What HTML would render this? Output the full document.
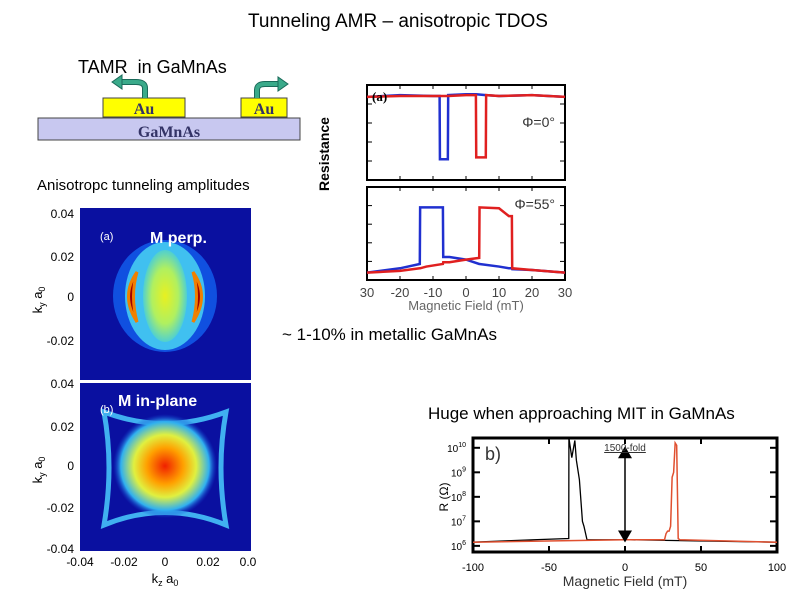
<!DOCTYPE html>
<html><head><meta charset="utf-8"><style>
body{margin:0;width:794px;height:595px;background:#fff;position:relative;overflow:hidden;font-family:"Liberation Sans",sans-serif}
.t{position:absolute;white-space:nowrap}
</style></head><body>
<div class="t" style="left:248px;top:11px;font-size:19px">Tunneling AMR – anisotropic TDOS</div>
<div class="t" style="left:78px;top:57px;font-size:18px">TAMR&nbsp; in GaMnAs</div>
<svg width="794" height="595" style="position:absolute;left:0;top:0">
<rect x="38" y="118" width="262" height="22" fill="#c8c8f0" stroke="#444"/>
<rect x="103" y="98" width="82" height="19" fill="#ffff00" stroke="#444"/>
<rect x="241" y="98" width="46" height="19" fill="#ffff00" stroke="#444"/>
<text x="144" y="114" font-family="Liberation Serif" font-weight="bold" font-size="16" text-anchor="middle" fill="#333366">Au</text>
<text x="264" y="114" font-family="Liberation Serif" font-weight="bold" font-size="16" text-anchor="middle" fill="#333366">Au</text>
<text x="169" y="137" font-family="Liberation Serif" font-weight="bold" font-size="16" text-anchor="middle" fill="#333366">GaMnAs</text>
<path d="M145 98 L145 88 Q145 82 136 82 L120 82" fill="none" stroke="#1a6a5a" stroke-width="6"/>
<path d="M145 98 L145 88 Q145 82 136 82 L120 82" fill="none" stroke="#3aaa8a" stroke-width="4"/>
<polygon points="112,82 122,75 122,89" fill="#3aaa8a" stroke="#1a6a5a"/>
<path d="M257 98 L257 90 Q257 84 265 84 L280 84" fill="none" stroke="#1a6a5a" stroke-width="6"/>
<path d="M257 98 L257 90 Q257 84 265 84 L280 84" fill="none" stroke="#3aaa8a" stroke-width="4"/>
<polygon points="288,84 278,77 278,91" fill="#3aaa8a" stroke="#1a6a5a"/>
</svg>
<div class="t" style="left:37px;top:177px;font-size:15px">Anisotropc tunneling amplitudes</div>
<div class="t" style="left:287px;top:146px;font-size:14px;font-weight:bold;transform:rotate(-90deg)">Resistance</div>
<div class="t" style="left:282px;top:325px;font-size:17px">~ 1-10% in metallic GaMnAs</div>
<div class="t" style="left:428px;top:404px;font-size:17px">Huge when approaching MIT in GaMnAs</div>

<svg id="heat" width="794" height="595" style="position:absolute;left:0;top:0">
<defs>
<radialGradient id="ga" cx="0.5" cy="0.5" r="0.5"><stop offset="0" stop-color="#e8f020"/><stop offset="0.6" stop-color="#b0f060"/><stop offset="1" stop-color="#50d0d0"/></radialGradient>
<radialGradient id="gb" cx="0.5" cy="0.5" r="0.5"><stop offset="0" stop-color="#f02000"/><stop offset="0.35" stop-color="#ffa000"/><stop offset="0.6" stop-color="#e0f040"/><stop offset="0.85" stop-color="#30b0f0"/><stop offset="1" stop-color="#1040d0" stop-opacity="0"/></radialGradient>
</defs>
<rect x="80" y="208" width="171" height="172" fill="#0a10a0"/>
<ellipse cx="165" cy="296" rx="52" ry="56" fill="#1050e0"/>
<ellipse cx="165" cy="296" rx="40" ry="54" fill="#40c0f0"/>
<ellipse cx="165" cy="296" rx="22" ry="46" fill="url(#ga)"/>
<path d="M137 272 Q120 296 137 322 Q130 296 137 272Z" fill="#a00000" stroke="#f08000" stroke-width="3"/>
<path d="M193 272 Q210 296 193 322 Q200 296 193 272Z" fill="#a00000" stroke="#f08000" stroke-width="3"/>
<rect x="80" y="383" width="171" height="168" fill="#0a10a0"/>
<path d="M104 412 Q165 435 226 412 Q216 467 226 525 Q165 500 104 525 Q114 467 104 412Z" fill="none" stroke="#40b0f0" stroke-width="5"/>
<circle cx="165" cy="466" r="52" fill="url(#gb)"/>
<text x="100" y="240" fill="#fff" font-size="11">(a)</text>
<text x="150" y="243" fill="#fff" font-size="16" font-weight="bold">M perp.</text>
<text x="100" y="413" fill="#fff" font-size="11">(b)</text>
<text x="118" y="406" fill="#fff" font-size="16" font-weight="bold">M in-plane</text>
<g font-size="12" text-anchor="end">
<text x="74" y="218">0.04</text><text x="74" y="261">0.02</text><text x="74" y="301">0</text><text x="74" y="345">-0.02</text>
<text x="74" y="388">0.04</text><text x="74" y="431">0.02</text><text x="74" y="470">0</text><text x="74" y="512">-0.02</text><text x="74" y="553">-0.04</text>
</g>
<g font-size="12" text-anchor="middle">
<text x="80" y="566">-0.04</text><text x="124" y="566">-0.02</text><text x="165" y="566">0</text><text x="208" y="566">0.02</text><text x="248" y="566">0.0</text>
</g>
<text x="165" y="583" font-size="13" text-anchor="middle">k<tspan font-size="9" dy="3">z</tspan><tspan dy="-3"> a</tspan><tspan font-size="9" dy="3">0</tspan></text>
<text transform="translate(42,300) rotate(-90)" font-size="13" text-anchor="middle">k<tspan font-size="9" dy="3">y</tspan><tspan dy="-3"> a</tspan><tspan font-size="9" dy="3">0</tspan></text>
<text transform="translate(42,470) rotate(-90)" font-size="13" text-anchor="middle">k<tspan font-size="9" dy="3">y</tspan><tspan dy="-3"> a</tspan><tspan font-size="9" dy="3">0</tspan></text>
</svg>

<svg id="tamr" width="794" height="595" style="position:absolute;left:0;top:0"></svg>
<svg id="mit" width="794" height="595" style="position:absolute;left:0;top:0"></svg>

<script>
// TAMR chart data (field mT, normalized resistance 0..1)
const fieldA = [-30,-20,-10,-8,-7.9,-5.5,-5.4,0,3,3.1,6,6.1,10,20,30];
const blueA  = [0.9,0.92,0.91,0.91,0.2,0.2,0.92,0.93,0.93,0.93,0.92,0.92,0.91,0.92,0.9];
const redA   = [0.9,0.91,0.91,0.91,0.91,0.91,0.91,0.92,0.92,0.22,0.22,0.92,0.91,0.92,0.9];
const fieldB = [-30,-20,-14,-13.9,-12,-7,-6.9,-5,0,4,4.1,10,13,13.9,14,20,30];
const blueB  = [0.05,0.1,0.15,0.8,0.8,0.8,0.23,0.23,0.2,0.15,0.15,0.12,0.1,0.1,0.09,0.08,0.05];
const redB   = [0.05,0.07,0.1,0.1,0.12,0.15,0.17,0.17,0.2,0.22,0.8,0.79,0.7,0.7,0.1,0.08,0.05];
const tamrTicks = [-30,-20,-10,0,10,20,30];
// MIT chart data (field mT, log10 R)
const fieldM = [-100,-60,-37,-36.9,-35,-33,-32,-30,-28,-27,-25,0,100];
const blackM = [6.15,6.25,6.3,10.4,9.6,10.3,9.5,8.7,7.0,6.8,6.25,6.25,6.15];
const fieldR = [-100,0,26,27,28,29,30,31,32,33,34,35,36,100];
const redM   = [6.15,6.25,6.25,6.5,6.6,6.6,6.8,8.8,9.0,10.2,10.1,6.3,6.25,6.15];
const mitTicksX = [-100,-50,0,50,100];
const mitTicksY = [6,7,8,9,10];

const NS='http://www.w3.org/2000/svg';
function mk(svg,tag,attrs,txt){const e=document.createElementNS(NS,tag);for(const k in attrs)e.setAttribute(k,attrs[k]);if(txt!=null)e.textContent=txt;svg.appendChild(e);return e;}

const tamr=document.getElementById('tamr');
const tx=v=>367+(v+30)/60*198;
const panels=[{y0:85,y1:180,f:fieldA,b:blueA,r:redA,lab:'Φ=0°'},{y0:187,y1:280,f:fieldB,b:blueB,r:redB,lab:'Φ=55°'}];
panels.forEach((p,i)=>{
  const ty=v=>p.y1-3-v*(p.y1-p.y0-6);
  const fr=mk(tamr,'rect',{x:367,y:p.y0,width:198,height:p.y1-p.y0,fill:'#fff',stroke:'#000','stroke-width':2});
  
  
  tamrTicks.forEach(t=>{mk(tamr,'line',{x1:tx(t),x2:tx(t),y1:p.y1,y2:p.y1-4,stroke:'#000'});mk(tamr,'line',{x1:tx(t),x2:tx(t),y1:p.y0,y2:p.y0+4,stroke:'#000'});});
  [0.2,0.4,0.6,0.8].forEach(f=>{const y=p.y0+f*(p.y1-p.y0);mk(tamr,'line',{x1:367,x2:372,y1:y,y2:y,stroke:'#000'});mk(tamr,'line',{x1:560,x2:565,y1:y,y2:y,stroke:'#000'});});
  const bl=mk(tamr,'polyline',{points:p.f.map((x,j)=>tx(x)+','+ty(p.b[j])).join(' '),fill:'none',stroke:'#2030d0','stroke-width':2.5});
  
  
  const rl=mk(tamr,'polyline',{points:p.f.map((x,j)=>tx(x)+','+ty(p.r[j])).join(' '),fill:'none',stroke:'#e02020','stroke-width':2.5});
  
  
  mk(tamr,'text',{x:555,y:p.y0+(i?22:42),'font-size':14,'text-anchor':'end',fill:'#333'},p.lab);
});
mk(tamr,'text',{x:372,y:101,'font-size':13,'font-weight':'bold','font-family':'Liberation Serif'},'(a)');
tamrTicks.forEach(t=>{const e=mk(tamr,'text',{x:tx(t),y:297,'font-size':13,'text-anchor':'middle',fill:'#444'},String(Math.abs(t)===30?30:t));});
mk(tamr,'text',{x:466,y:310,'font-size':13,'text-anchor':'middle',fill:'#666'},'Magnetic Field (mT)');

const mit=document.getElementById('mit');
const X0=473,X1=777,Y0=438,Y1=552;
const mx=v=>X0+(v+100)/200*(X1-X0);
const my=v=>Y1-(v-5.75)/(10.4-5.75)*(Y1-Y0);
const fr2=mk(mit,'rect',{x:X0,y:Y0,width:X1-X0,height:Y1-Y0,fill:'#fff',stroke:'#000','stroke-width':3});


mitTicksX.forEach(t=>{mk(mit,'line',{x1:mx(t),x2:mx(t),y1:Y1,y2:Y1-6,stroke:'#000','stroke-width':2});mk(mit,'line',{x1:mx(t),x2:mx(t),y1:Y0,y2:Y0+6,stroke:'#000','stroke-width':2});
  const e=mk(mit,'text',{x:mx(t),y:571,'font-size':11,'text-anchor':'middle'},String(t));});
mitTicksY.forEach(t=>{mk(mit,'line',{x1:X0,x2:X0+7,y1:my(t),y2:my(t),stroke:'#000','stroke-width':2});mk(mit,'line',{x1:X1-7,x2:X1,y1:my(t),y2:my(t),stroke:'#000','stroke-width':2});
  const e=mk(mit,'text',{x:466,y:my(t)+4,'font-size':10,'text-anchor':'end'});e.textContent='10';const s=mk(e,'tspan',{'font-size':7,dy:-5},String(t));
  });
const kl=mk(mit,'polyline',{points:fieldM.map((x,j)=>mx(x)+','+my(blackM[j])).join(' '),fill:'none',stroke:'#000','stroke-width':1.3});


const rm=mk(mit,'polyline',{points:fieldR.map((x,j)=>mx(x)+','+my(redM[j])).join(' '),fill:'none',stroke:'#e05030','stroke-width':1.5});


mk(mit,'line',{x1:mx(0),x2:mx(0),y1:my(9.9)+6,y2:my(6.3)-6,stroke:'#000','stroke-width':1.5});
mk(mit,'path',{d:`M${mx(0)-7} ${my(9.9)+8} L${mx(0)+7} ${my(9.9)+8} L${mx(0)} ${my(9.9)-4}Z`,fill:'#000'});
mk(mit,'path',{d:`M${mx(0)-7} ${my(6.3)-8} L${mx(0)+7} ${my(6.3)-8} L${mx(0)} ${my(6.3)+4}Z`,fill:'#000'});
mk(mit,'text',{x:mx(0),y:451,'font-size':10,'text-anchor':'middle',fill:'#333','text-decoration':'underline'},'1500-fold');
mk(mit,'text',{x:485,y:460,'font-size':18,fill:'#333'},'b)');
mk(mit,'text',{transform:'translate(448,497) rotate(-90)','font-size':12,'text-anchor':'middle'},'R (Ω)');
mk(mit,'text',{x:625,y:586,'font-size':14,'text-anchor':'middle',fill:'#333'},'Magnetic Field (mT)');
</script>
</body></html>
